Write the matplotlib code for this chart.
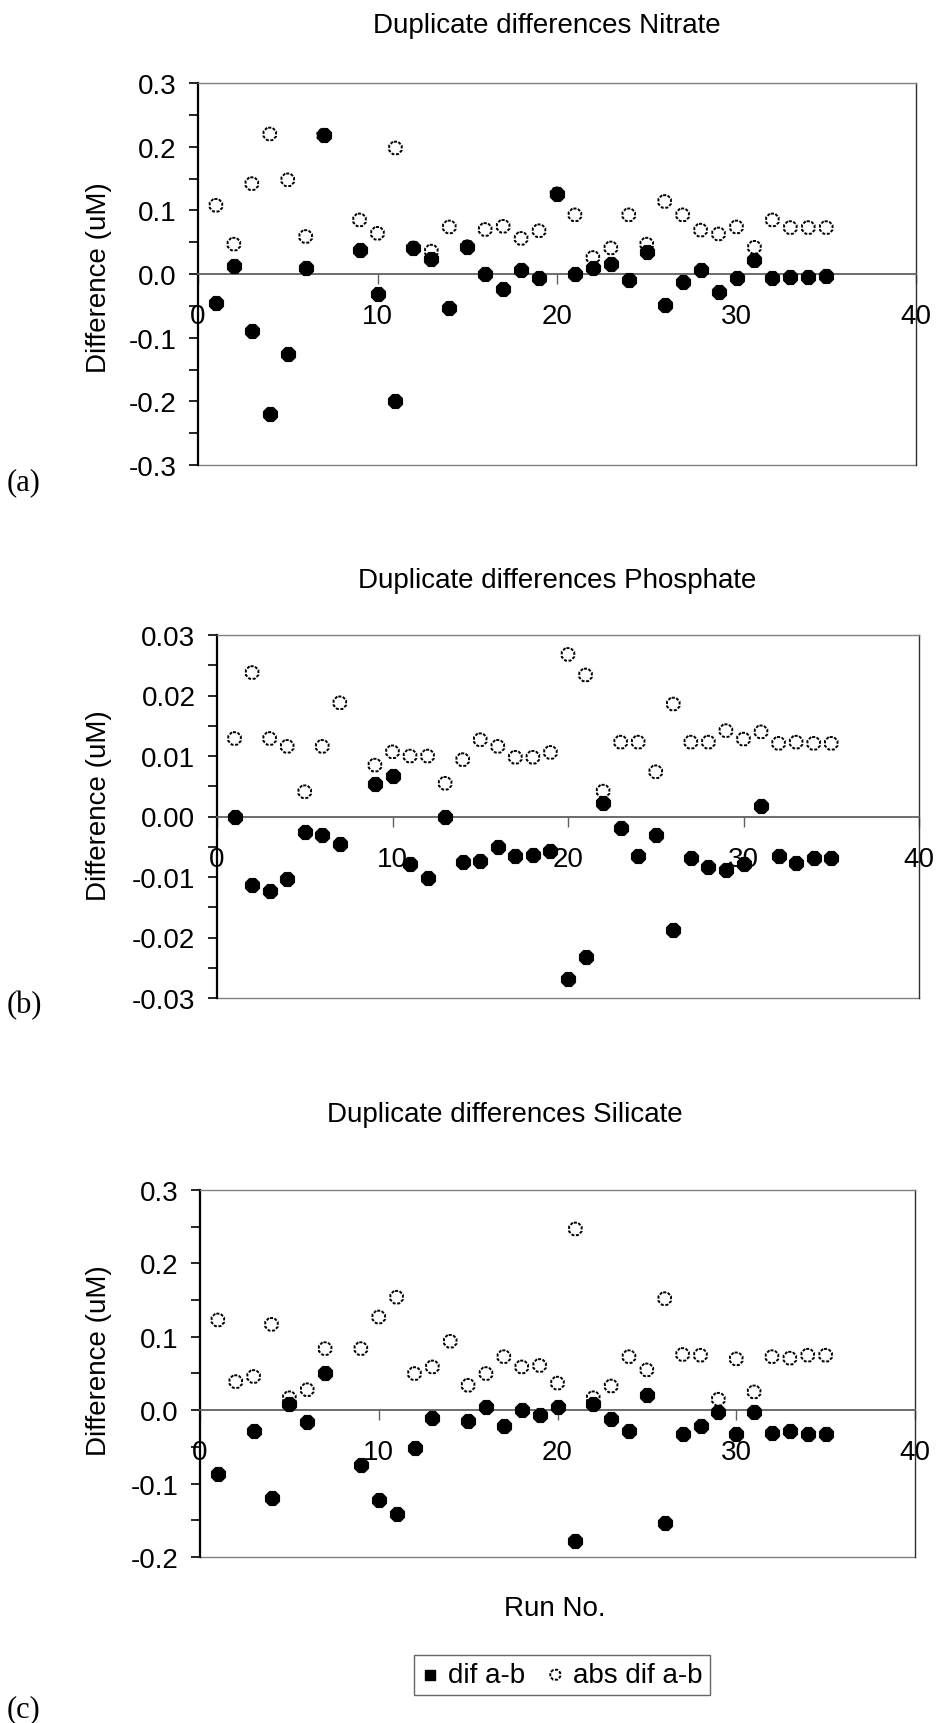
import numpy as np
import matplotlib
matplotlib.use("Agg")
import matplotlib.pyplot as plt
from matplotlib.ticker import MultipleLocator, FormatStrFormatter

plt.rcParams['font.family'] = ['Liberation Sans', 'DejaVu Sans']

# ---- data -------------------------------------------------------------
nan = np.nan
run_no = list(range(1, 36))

nitrate_dif = [-0.045, 0.013, -0.089, -0.220, -0.125, 0.010, 0.218, nan, 0.038, -0.032,
               -0.199, 0.041, 0.024, -0.053, 0.043, 0.000, -0.023, 0.006, -0.006, 0.126,
               0.000, 0.009, 0.016, -0.010, 0.034, -0.049, -0.012, 0.006, -0.028, -0.007,
               0.022, -0.007, -0.004, -0.004, -0.003]
nitrate_abs = [0.108, 0.047, 0.142, 0.220, 0.148, 0.059, 0.218, nan, 0.085, 0.064,
               0.198, 0.041, 0.036, 0.074, 0.043, 0.070, 0.075, 0.056, 0.068, 0.126,
               0.093, 0.026, 0.041, 0.093, 0.047, 0.114, 0.093, 0.069, 0.063, 0.074,
               0.042, 0.085, 0.073, 0.073, 0.073]

phosphate_dif = [0.0000, -0.0113, -0.0123, -0.0104, -0.0025, -0.0030, -0.0046, nan, 0.0053, 0.0067,
                 -0.0079, -0.0102, 0.0000, -0.0076, -0.0074, -0.0050, -0.0066, -0.0064, -0.0057, -0.0269,
                 -0.0233, 0.0023, -0.0019, -0.0065, -0.0030, -0.0187, -0.0068, -0.0083, -0.0088, -0.0078,
                 0.0018, -0.0066, -0.0077, -0.0068, -0.0068]
phosphate_abs = [0.0129, 0.0238, 0.0129, 0.0116, 0.0041, 0.0116, 0.0188, nan, 0.0085, 0.0107,
                 0.0100, 0.0100, 0.0055, 0.0094, 0.0127, 0.0116, 0.0098, 0.0098, 0.0106, 0.0268,
                 0.0234, 0.0042, 0.0123, 0.0123, 0.0074, 0.0186, 0.0123, 0.0123, 0.0142, 0.0128,
                 0.0140, 0.0121, 0.0123, 0.0121, 0.0121]

silicate_dif = [-0.087, nan, -0.029, -0.119, 0.008, -0.016, 0.051, nan, -0.075, -0.122,
                -0.141, -0.051, -0.010, nan, -0.015, 0.004, -0.021, 0.000, -0.007, 0.004,
                -0.178, 0.008, -0.012, -0.028, 0.021, -0.153, -0.032, -0.021, -0.003, -0.032,
                -0.003, -0.031, -0.028, -0.033, -0.033]
silicate_abs = [0.123, 0.039, 0.046, 0.117, 0.017, 0.028, 0.084, nan, 0.084, 0.127,
                0.154, 0.050, 0.059, 0.094, 0.034, 0.050, 0.073, 0.059, 0.061, 0.037,
                0.247, 0.017, 0.033, 0.073, 0.055, 0.152, 0.076, 0.075, 0.015, 0.070,
                0.025, 0.073, 0.071, 0.075, 0.075]

titles = ["Duplicate differences Nitrate",
          "Duplicate differences Phosphate",
          "Duplicate differences Silicate"]
panel_tags = ["(a)", "(b)", "(c)"]
series_names = ["dif a-b", "abs dif a-b"]

# ---- layout (pixel units on a 936 x 1724 canvas) ----------------------
W, H = 936, 1724
fig = plt.figure(figsize=(W / 100, H / 100), dpi=100)
fig.patch.set_facecolor('white')


def box(l, t, r, b):
    return [l / W, 1 - b / H, (r - l) / W, (b - t) / H]


def fxy(x, y):
    return x / W, 1 - y / H


panels = [
    dict(rect=box(198, 84, 916, 466), ylim=(-0.3, 0.3), major=0.1, minor=0.05, fmt='%.1f',
         dif=nitrate_dif, absd=nitrate_abs, title_xy=(547, 26), ylab_y=278, tag_y=483),
    dict(rect=box(217, 636, 919, 999), ylim=(-0.03, 0.03), major=0.01, minor=0.005, fmt='%.2f',
         dif=phosphate_dif, absd=phosphate_abs, title_xy=(557, 581), ylab_y=806, tag_y=1006),
    dict(rect=box(200, 1191, 915, 1558), ylim=(-0.2, 0.3), major=0.1, minor=0.05, fmt='%.1f',
         dif=silicate_dif, absd=silicate_abs, title_xy=(505, 1115), ylab_y=1361, tag_y=1710),
]

FS = 20
frame_grey = '#808080'
open_style = dict(facecolors='white', edgecolors='black', linewidths=1.4,
                  linestyles=(0, (1.6, 0.8)))
filled_style = dict(facecolors='black', edgecolors='black', linewidths=1.0)

for i, p in enumerate(panels):
    ax = fig.add_axes(p['rect'])
    ax.set_xlim(0, 40)
    ax.set_ylim(*p['ylim'])

    ax.scatter(run_no, p['absd'], marker='8', s=95, zorder=3, clip_on=False, **open_style)
    ax.scatter(run_no, p['dif'], marker='8', s=115, zorder=4, clip_on=False, **filled_style)

    # frame: black value axis, grey border, x axis crossing at zero
    ax.spines['left'].set_color('black')
    ax.spines['left'].set_linewidth(1.6)
    ax.spines['right'].set_color('#303030')
    ax.spines['right'].set_linewidth(1.0)
    ax.spines['top'].set_color(frame_grey)
    ax.spines['top'].set_linewidth(1.0)
    ax.spines['bottom'].set_position(('data', 0))
    ax.spines['bottom'].set_color('#606060')
    ax.spines['bottom'].set_linewidth(1.3)
    ax.plot([0, 1], [0, 0], transform=ax.transAxes, color=frame_grey, lw=1.0,
            clip_on=False, zorder=1)

    ax.yaxis.set_major_locator(MultipleLocator(p['major']))
    ax.yaxis.set_minor_locator(MultipleLocator(p['minor']))
    ax.yaxis.set_major_formatter(FormatStrFormatter(p['fmt']))
    ax.tick_params(axis='y', which='both', direction='out', length=6.5, width=1.2,
                   color='black', labelsize=FS, pad=9)

    ax.xaxis.set_major_locator(MultipleLocator(10))
    ax.xaxis.set_major_formatter(FormatStrFormatter('%d'))
    ax.tick_params(axis='x', which='major', direction='out', length=7, width=1.0,
                   color='#606060', labelsize=FS, pad=14)

    fig.text(*fxy(*p['title_xy']), titles[i], ha='center', va='center', fontsize=FS)
    fig.text(*fxy(99, p['ylab_y']), "Difference (uM)", rotation=90, ha='center',
             va='center', fontsize=FS)
    fig.text(*fxy(7, p['tag_y']), panel_tags[i], ha='left', va='center', fontsize=22,
             family=['Liberation Serif', 'DejaVu Serif'])

    last_ax = ax

fig.text(*fxy(555, 1609), "Run No.", ha='center', va='center', fontsize=FS)

# legend keys: square for the signed difference, dotted open marker for the absolute one
key_dif = last_ax.scatter([], [], marker='s', s=60, **filled_style)
key_abs = last_ax.scatter([], [], marker='8', s=60, **open_style)
leg = fig.legend([key_dif, key_abs], series_names, loc='center',
                 bbox_to_anchor=fxy(562, 1676), ncol=2, fontsize=FS, frameon=True,
                 fancybox=False, edgecolor='#404040', borderpad=0.25, handlelength=0.6,
                 handletextpad=0.35, columnspacing=0.8, scatterpoints=1)
leg.get_frame().set_linewidth(1.0)

fig.savefig("out.png", dpi=100, facecolor='white')
